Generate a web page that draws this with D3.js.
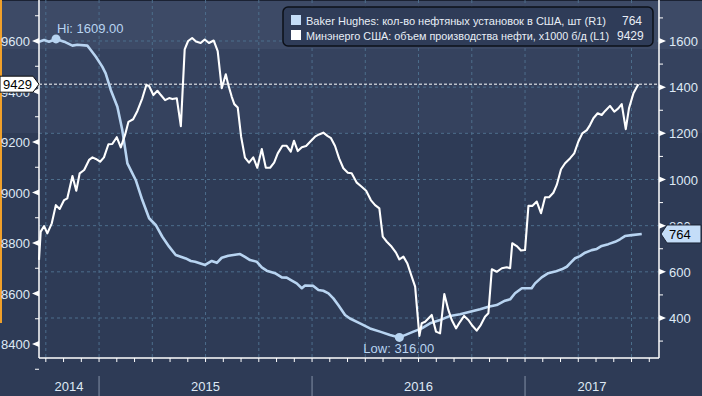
<!DOCTYPE html>
<html><head><meta charset="utf-8">
<script src="https://cdn.jsdelivr.net/npm/d3@7"></script>
<style>
html,body{margin:0;padding:0;background:#2e3b56;}
svg{display:block;font-family:"Liberation Sans",Arial,sans-serif;}
</style></head>
<body><svg id="c" width="702" height="396"></svg>
<script>
// ---- data (dates as decimal years) ----
const rigDates = [2014.718,2014.742,2014.765,2014.798,2014.836,2014.875,2014.898,2014.945,2014.961,2014.985,
2015.015,2015.031,2015.055,2015.086,2015.109,2015.133,2015.172,2015.203,2015.235,2015.266,2015.297,2015.329,2015.360,
2015.407,2015.431,2015.451,2015.498,2015.529,2015.553,2015.576,2015.607,2015.662,2015.685,2015.709,2015.740,2015.764,
2015.787,2015.826,2015.858,2015.881,2015.905,2015.928,2015.952,2015.967,2016.006,2016.030,2016.053,2016.077,2016.100,
2016.123,2016.155,2016.178,2016.225,2016.272,2016.319,2016.366,2016.410,2016.445,2016.476,2016.515,2016.554,2016.601,
2016.648,2016.695,2016.742,2016.789,2016.828,2016.867,2016.906,2016.930,2016.953,2016.985,2017.031,2017.047,2017.078,
2017.109,2017.141,2017.172,2017.196,2017.219,2017.235,2017.258,2017.282,2017.313,2017.337,2017.360,2017.391,2017.423,
2017.446,2017.469,2017.501,2017.548];
const rigValues = [1597,1604,1597,1609,1597,1580,1584,1580,1561,1532,
1489,1460,1388,1315,1214,1070,998,911,832,803,752,709,673,
658,647,644,630,647,639,661,670,677,665,651,644,619,
605,594,576,575,562,550,529,541,539,521,518,507,485,
456,413,398,377,355,341,326,316,329,341,355,377,391,
409,416,427,438,449,456,475,481,507,529,529,550,576,
594,601,611,622,644,659,668,683,694,699,712,720,730,
741,755,759,764];

const prodDates = [2014.718,2014.726,2014.742,2014.757,2014.778,2014.797,2014.815,2014.836,2014.851,2014.875,2014.893,
2014.909,2014.930,2014.953,2014.969,2014.985,2015.005,2015.023,2015.044,2015.062,2015.083,2015.102,2015.122,2015.138,
2015.160,2015.180,2015.203,2015.222,2015.235,2015.255,2015.274,2015.290,2015.310,2015.329,2015.344,2015.365,2015.384,
2015.402,2015.418,2015.437,2015.455,2015.477,2015.496,2015.516,2015.538,2015.557,2015.576,2015.595,2015.607,2015.623,
2015.635,2015.651,2015.667,2015.685,2015.704,2015.724,2015.743,2015.764,2015.783,2015.803,2015.822,2015.839,2015.861,
2015.881,2015.900,2015.915,2015.933,2015.952,2015.972,2015.991,2016.014,2016.033,2016.053,2016.072,2016.089,2016.108,
2016.127,2016.147,2016.168,2016.186,2016.210,2016.233,2016.254,2016.276,2016.296,2016.316,2016.332,2016.351,2016.374,
2016.394,2016.410,2016.429,2016.447,2016.468,2016.484,2016.504,2016.515,2016.531,2016.562,2016.582,2016.601,2016.621,
2016.640,2016.656,2016.676,2016.695,2016.714,2016.734,2016.754,2016.773,2016.792,2016.812,2016.828,2016.844,2016.867,
2016.891,2016.914,2016.930,2016.940,2016.961,2016.981,2017.000,2017.016,2017.034,2017.055,2017.075,2017.094,2017.113,
2017.133,2017.149,2017.169,2017.188,2017.211,2017.231,2017.250,2017.269,2017.290,2017.305,2017.321,2017.341,2017.360,
2017.376,2017.399,2017.419,2017.438,2017.454,2017.473,2017.488,2017.509,2017.532];
const prodValues = [8733,8845,8867,8838,8878,8950,8935,8970,8977,9065,9007,
9076,9089,9129,9139,9133,9122,9139,9191,9192,9219,9179,9228,9280,
9290,9323,9373,9426,9422,9386,9403,9386,9366,9374,9370,9373,9263,
9567,9600,9612,9598,9592,9606,9592,9602,9560,9413,9468,9426,9379,
9350,9337,9221,9138,9118,9139,9098,9172,9098,9098,9118,9155,9185,
9185,9162,9205,9164,9179,9184,9201,9221,9230,9237,9224,9215,9184,
9135,9096,9078,9076,9039,9023,9007,8970,8950,8937,8825,8805,8785,
8762,8735,8746,8720,8667,8627,8432,8482,8488,8515,8449,8442,8598,
8535,8495,8462,8488,8511,8495,8471,8453,8475,8508,8522,8696,8686,
8700,8704,8700,8799,8788,8770,8772,8947,8947,8964,8918,8981,8981,
8999,9030,9092,9116,9135,9155,9201,9234,9247,9267,9294,9314,9307,
9323,9343,9320,9333,9350,9251,9333,9393,9429];

const leftTicks = [8400,8600,8800,9000,9200,9400,9600];
const rightTicks = [400,600,800,1000,1200,1400,1600];
const yearLabels = ["2014","2015","2016","2017"];
const legendLabels = ["Baker Hughes: кол-во нефтяных установок в США, шт (R1)",
                      "Минэнерго США: объем производства нефти, x1000 б/д (L1)"];
const legendValues = ["764","9429"];
const hiLabel = "Hi: 1609.00", lowLabel = "Low: 316.00";

// ---- layout ----
const W=702,H=396, L=39, R=659, T=0, B=358;
const svg=d3.select("#c");
const x=d3.scaleLinear().domain([2014.718,2017.629]).range([L,R]);
const yL=d3.scaleLinear().domain([8400,9600]).range([344,41]);
const yR=d3.scaleLinear().domain([400,1600]).range([318,41]);

// background bands
svg.append("rect").attr("x",0).attr("y",0).attr("width",W).attr("height",H).attr("fill","#2e3b56");
svg.append("rect").attr("x",0).attr("y",49).attr("width",W).attr("height",84).attr("fill","#35425e");
svg.append("rect").attr("x",0).attr("y",0).attr("width",W).attr("height",49).attr("fill","#3d4a66");
svg.append("rect").attr("x",0).attr("y",0).attr("width",W).attr("height",1).attr("fill","#1b2233");
svg.append("rect").attr("x",0).attr("y",0).attr("width",2).attr("height",323).attr("fill","#f0a02a");

const gridCol="#4d6e8c";
const quarters=d3.range(2014.75,2017.75,0.25).filter(t=>x(t)>L+1&&x(t)<R-1);
svg.append("g").selectAll("line").data(quarters).join("line")
  .attr("x1",d=>x(d)).attr("x2",d=>x(d)).attr("y1",T).attr("y2",B)
  .attr("stroke",gridCol).attr("stroke-width",1).attr("stroke-dasharray","3,3");
svg.append("g").selectAll("line").data(rightTicks).join("line")
  .attr("x1",L).attr("x2",R).attr("y1",d=>yR(d)).attr("y2",d=>yR(d))
  .attr("stroke",gridCol).attr("stroke-width",1).attr("stroke-dasharray","3,3");

svg.append("line").attr("x1",L).attr("x2",R).attr("y1",yL(9429)).attr("y2",yL(9429))
  .attr("stroke","#ffffff").attr("stroke-width",1).attr("stroke-dasharray","3,2");

const rig=rigDates.map((t,i)=>({t,v:rigValues[i]}));
const prod=prodDates.map((t,i)=>({t,v:prodValues[i]}));
svg.append("path").datum(rig).attr("fill","none").attr("stroke","#b8d4f1").attr("stroke-width",2.6)
  .attr("stroke-linejoin","round").attr("d",d3.line().x(d=>x(d.t)).y(d=>yR(d.v)));
svg.append("path").datum(prod).attr("fill","none").attr("stroke","#ffffff").attr("stroke-width",2.1)
  .attr("stroke-linejoin","round").attr("d",d3.line().x(d=>x(d.t)).y(d=>yL(d.v)));

const hi=rig[d3.maxIndex(rig,d=>d.v)], lo=rig[d3.minIndex(rig,d=>d.v)];
svg.append("circle").attr("cx",x(hi.t)).attr("cy",yR(hi.v)).attr("r",4.5).attr("fill","#b8d4f1");
svg.append("circle").attr("cx",x(lo.t)).attr("cy",yR(lo.v)).attr("r",4.5).attr("fill","#b8d4f1");
svg.append("text").attr("x",x(hi.t)+1).attr("y",33).attr("fill","#b8d4f1").attr("font-size",13).text(hiLabel);
svg.append("text").attr("x",x(lo.t)-36).attr("y",353).attr("fill","#b8d4f1").attr("font-size",13).text(lowLabel);

const ax=svg.append("g").attr("stroke","#ffffff").attr("stroke-width",1.5);
ax.append("line").attr("x1",L).attr("x2",L).attr("y1",T).attr("y2",B);
ax.append("line").attr("x1",R).attr("x2",R).attr("y1",T).attr("y2",B);
ax.append("line").attr("x1",L).attr("x2",R).attr("y1",B).attr("y2",B);

const months=[];
for(let yv=2014;yv<=2017;yv++)for(let m=0;m<12;m++){const t=yv+m/12;if(x(t)>L+2&&x(t)<R-2)months.push(t);}
svg.append("g").selectAll("line").data(months).join("line")
  .attr("x1",d=>x(d)).attr("x2",d=>x(d)).attr("y1",B).attr("y2",B+4)
  .attr("stroke","#ffffff").attr("stroke-width",1);

const minorL=d3.range(8300,9800,200);
svg.append("g").selectAll("line").data(minorL).join("line")
  .attr("x1",L-4).attr("x2",L).attr("y1",d=>yL(d)).attr("y2",d=>yL(d)).attr("stroke","#fff");
svg.append("g").selectAll("path").data(leftTicks).join("path")
  .attr("d",d=>`M${L},${yL(d)-3}L${L},${yL(d)+3}L${L-7},${yL(d)}Z`).attr("fill","#fff");
svg.append("g").selectAll("text").data(leftTicks).join("text")
  .attr("x",30).attr("y",d=>yL(d)+5).attr("text-anchor","end").attr("font-size",13)
  .attr("fill","#dfe9f5").text(d=>d);

const minorR=d3.range(300,1800,200).filter(d=>yR(d)>2&&yR(d)<B);
svg.append("g").selectAll("line").data(minorR).join("line")
  .attr("x1",R).attr("x2",R+4).attr("y1",d=>yR(d)).attr("y2",d=>yR(d)).attr("stroke","#fff");
svg.append("g").selectAll("path").data(rightTicks).join("path")
  .attr("d",d=>`M${R},${yR(d)-3}L${R},${yR(d)+3}L${R+7},${yR(d)}Z`).attr("fill","#fff");
svg.append("g").selectAll("text").data(rightTicks).join("text")
  .attr("x",669).attr("y",d=>yR(d)+5).attr("font-size",13)
  .attr("fill","#dfe9f5").text(d=>d);

const years=[2014,2015,2016,2017];
svg.append("g").selectAll("line").data(years.slice(1)).join("line")
  .attr("x1",d=>x(d)).attr("x2",d=>x(d)).attr("y1",376).attr("y2",396)
  .attr("stroke","#8390a6").attr("stroke-width",1);
svg.append("g").selectAll("text").data(years).join("text")
  .attr("x",d=>(Math.max(x(d),L)+Math.min(x(d+1),R))/2).attr("y",391)
  .attr("text-anchor","middle").attr("font-size",13).attr("fill","#dfe9f5")
  .text((d,i)=>yearLabels[i]);

// callouts
const cy1=yL(9429);
svg.append("path").attr("d",`M0,${cy1-8}L33,${cy1-8}L39,${cy1}L33,${cy1+8}L0,${cy1+8}Z`)
  .attr("fill","#ffffff").attr("stroke","#111").attr("stroke-width",1);
svg.append("text").attr("x",3).attr("y",cy1+5).attr("font-size",13).attr("fill","#000").text(legendValues[1]);
const cy2=yR(764);
svg.append("path").attr("d",`M661,${cy2}L667,${cy2-9}L701,${cy2-9}L701,${cy2+9}L667,${cy2+9}Z`)
  .attr("fill","#c4ddf8").attr("stroke","#1a2233").attr("stroke-width",1);
svg.append("text").attr("x",669).attr("y",cy2+5).attr("font-size",13).attr("fill","#000").text(legendValues[0]);

// legend
const lg=svg.append("g");
lg.append("rect").attr("x",283).attr("y",7).attr("width",370).attr("height",39).attr("rx",5)
  .attr("fill","#2f3c58").attr("stroke","#0c1018").attr("stroke-width",1.5);
const sw=["#c4ddf8","#ffffff"];
const lw=[300,303];
legendLabels.forEach((s,i)=>{
  const yy=15+i*15;
  lg.append("rect").attr("x",291).attr("y",yy).attr("width",10).attr("height",10).attr("fill",sw[i]);
  lg.append("text").attr("x",306).attr("y",yy+9.5).attr("font-size",11).attr("fill","#e8eef6")
    .attr("textLength",lw[i]).attr("lengthAdjust","spacingAndGlyphs").text(s);
  lg.append("text").attr("x",i===0?622:617).attr("y",yy+9.5).attr("font-size",12).attr("fill","#e8eef6").text(legendValues[i]);
});
</script></body></html>
